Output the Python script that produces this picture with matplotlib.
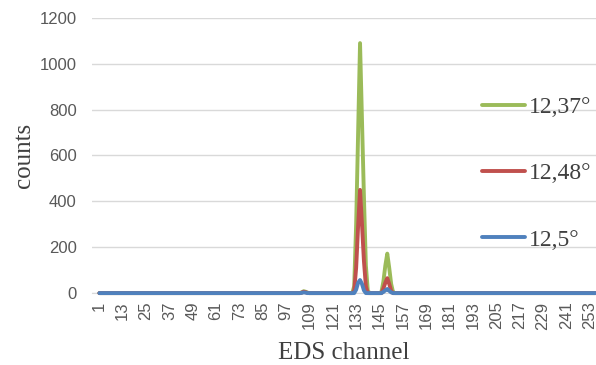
import matplotlib
matplotlib.use("Agg")
import matplotlib.pyplot as plt

channels = list(range(1, 257))
tick_labels = list(range(1, 254, 12))

# counts per channel (flat zero outside the peaks)
green_1237 = ([0] * 104 + [3, 8, 6, 2] + [0] * 23
              + [30, 300, 700, 1090, 760, 420, 120, 10] + [0] * 6
              + [5, 50, 120, 172, 110, 40, 3] + [0] * 104)
red_1248 = ([0] * 104 + [2, 6, 4, 1] + [0] * 23
            + [10, 110, 290, 450, 300, 140, 30, 0] + [0] * 6
            + [0, 20, 45, 65, 40, 10, 0] + [0] * 104)
blue_125 = ([0] * 104 + [1, 3, 2, 0] + [0] * 23
            + [0, 15, 45, 57, 40, 12, 0, 0] + [0] * 6
            + [0, 5, 12, 18, 10, 3, 0] + [0] * 104)

series_labels = ["12,37°", "12,48°", "12,5°"]
series = [green_1237, red_1248, blue_125]
colors = ["#9BBB59", "#C0504D", "#4F81BD"]

fig = plt.figure(figsize=(5.96, 3.65), dpi=100)
ax = fig.add_axes([0.154, 0.197, 0.846, 0.754])

for vals, lab, col in zip(series, series_labels, colors):
    ax.plot(channels, vals, color=col, lw=2.8, label=lab,
            solid_capstyle="round", solid_joinstyle="round", clip_on=False, zorder=3)

ax.set_xlim(-2.9, 256.3)
ax.set_ylim(0, 1200)
ax.set_yticks(range(0, 1201, 200))
ax.set_xticks(tick_labels)
ax.set_xticklabels([str(t) for t in tick_labels], rotation=90)
ax.grid(axis="y", color="#d9d9d9", lw=1.0)
ax.set_axisbelow(True)
for s in ["top", "right", "left"]:
    ax.spines[s].set_visible(False)
ax.spines["bottom"].set_color("#d9d9d9")
ax.tick_params(axis="both", length=0, labelsize=12, colors="#595959")
ax.tick_params(axis="y", pad=11)
ax.tick_params(axis="x", pad=6)
for t in ax.get_xticklabels() + ax.get_yticklabels():
    t.set_family("Liberation Sans")

ax.set_xlabel("EDS channel", family="Liberation Serif", fontsize=18, color="#404040", labelpad=9)
ax.set_ylabel("counts", family="Liberation Serif", fontsize=18, color="#404040", labelpad=3)

leg = ax.legend(loc="upper left", bbox_to_anchor=(0.774, 0.715), frameon=False,
                prop={"family": "Liberation Serif", "size": 17},
                borderpad=0, borderaxespad=0,
                labelspacing=1.9, handlelength=1.8, handletextpad=0.17)
for t in leg.get_texts():
    t.set_color("#404040")

fig.savefig("out.png", dpi=100)
